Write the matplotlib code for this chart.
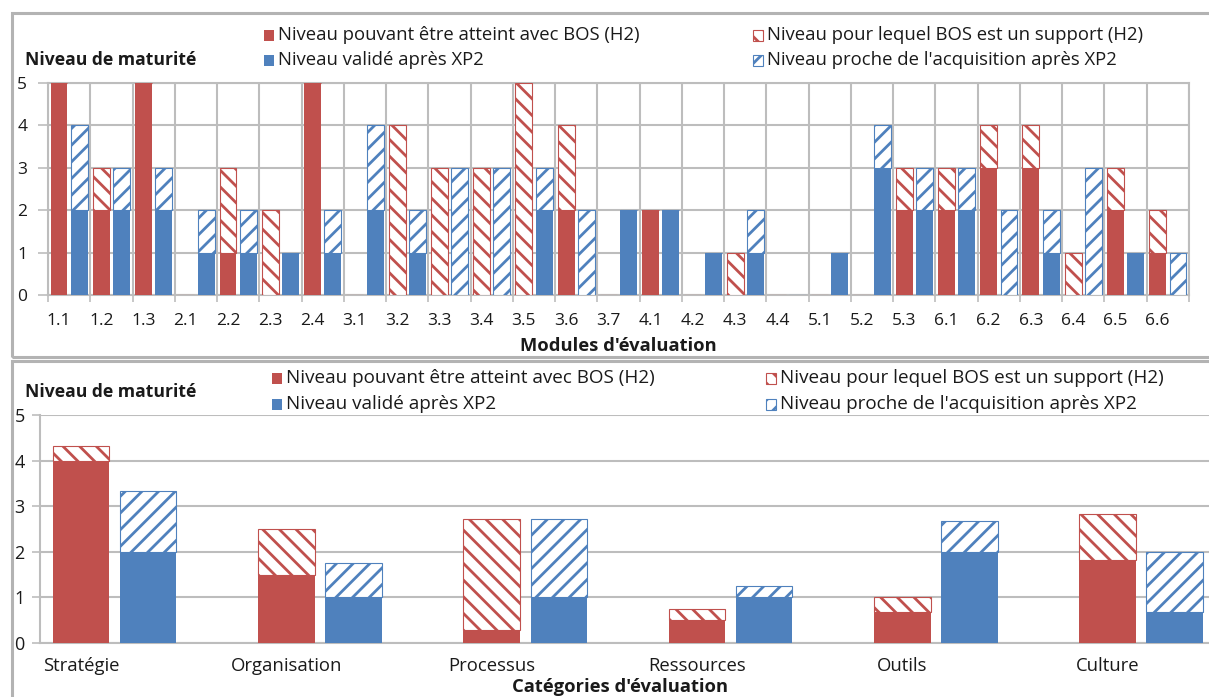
import matplotlib
matplotlib.use('Agg')
import matplotlib.pyplot as plt
from matplotlib.patches import Rectangle
import numpy as np

plt.rcParams['font.family'] = ['Open Sans', 'DejaVu Sans']
plt.rcParams['hatch.linewidth'] = 2.0

# ---------------- data ----------------
modules = ['1.1', '1.2', '1.3', '2.1', '2.2', '2.3', '2.4', '3.1', '3.2', '3.3',
           '3.4', '3.5', '3.6', '3.7', '4.1', '4.2', '4.3', '4.4', '5.1', '5.2',
           '5.3', '6.1', '6.2', '6.3', '6.4', '6.5', '6.6']
bos_level = [5, 2, 5, 0, 1, 0, 5, 0, 0, 0, 0, 0, 2, 0, 2, 0, 0, 0, 0, 0, 2, 2, 3, 3, 0, 2, 1]
bos_support = [0, 1, 0, 0, 2, 2, 0, 0, 4, 3, 3, 5, 2, 0, 0, 0, 1, 0, 0, 0, 1, 1, 1, 1, 1, 1, 1]
xp2_valid = [2, 2, 2, 1, 1, 1, 1, 2, 1, 0, 0, 2, 0, 2, 2, 1, 1, 0, 1, 3, 2, 2, 0, 1, 0, 1, 0]
xp2_close = [2, 1, 1, 1, 1, 0, 1, 2, 1, 3, 3, 1, 2, 0, 0, 0, 1, 0, 0, 1, 1, 1, 2, 1, 3, 0, 1]

categories = ['Stratégie', 'Organisation', 'Processus', 'Ressources', 'Outils', 'Culture']
cat_bos_level = [4.0, 1.5, 0.29, 0.5, 0.67, 1.83]
cat_bos_support = [0.33, 1.0, 2.43, 0.25, 0.33, 1.0]
cat_xp2_valid = [2.0, 1.0, 1.0, 1.0, 2.0, 0.67]
cat_xp2_close = [1.33, 0.75, 1.71, 0.25, 0.67, 1.33]

legend_labels = ["Niveau pouvant être atteint avec BOS (H2)",
                 "Niveau validé après XP2",
                 "Niveau pour lequel BOS est un support (H2)",
                 "Niveau proche de l'acquisition après XP2"]

RED = '#C0504D'
BLUE = '#4F81BD'
GRID = '#BDBDBD'
FRAME = '#B3B3B3'
TXT = '#1a1a1a'

W, H = 1209, 697
fig = plt.figure(figsize=(W / 100, H / 100), dpi=100)
fig.patch.set_facecolor('white')


def fx(x):
    return x / W


def fy(y):
    return 1 - y / H


# panel borders
for (x0, y0, x1, y1) in [(12, 13, 1225, 357), (12, 361, 1225, 720)]:
    fig.patches.append(Rectangle((fx(x0), fy(y1)), fx(x1) - fx(x0), fy(y0) - fy(y1),
                                 transform=fig.transFigure, facecolor='none',
                                 edgecolor=FRAME, linewidth=2.2, zorder=0))

# ---------------- top chart ----------------
ax1 = fig.add_axes([fx(48), fy(295), fx(1189) - fx(48), fy(83) - fy(295)])
n = len(modules)
idx = np.arange(n)
bw = 0.40
xr = idx + 0.26
xb = idx + 0.74
ax1.bar(xr, bos_level, bw, color=RED, linewidth=0, zorder=3)
ax1.bar(xr, bos_support, bw, bottom=bos_level, facecolor='white', edgecolor=RED,
        hatch='\\\\', linewidth=0.8, zorder=3)
ax1.bar(xb, xp2_valid, bw, color=BLUE, linewidth=0, zorder=3)
ax1.bar(xb, xp2_close, bw, bottom=xp2_valid, facecolor='white', edgecolor=BLUE,
        hatch='//', linewidth=0.8, zorder=3)
ax1.set_xlim(0, n)
ax1.set_ylim(0, 5)
ax1.set_xticks(xr)
ax1.set_xticklabels(modules, fontsize=12.5, color=TXT)
ax1.set_xticks(np.arange(n + 1), minor=True)
ax1.tick_params(axis='x', which='major', length=0, pad=13)
ax1.tick_params(axis='x', which='minor', length=5, width=1.2, color=GRID, direction='out')
ax1.set_yticks(range(6))
ax1.set_yticklabels([str(v) for v in range(6)], fontsize=12.5, color=TXT)
ax1.tick_params(axis='y', length=7, width=1.2, color=GRID, pad=8)
ax1.grid(True, which='minor', axis='x', color=GRID, linewidth=1.5, zorder=0)
ax1.grid(True, which='major', axis='y', color=GRID, linewidth=1.5, zorder=0)
ax1.grid(False, which='major', axis='x')
for s in ax1.spines.values():
    s.set_color(GRID)
    s.set_linewidth(1.5)
ax1.set_axisbelow(True)

# ---------------- bottom chart ----------------
ax2 = fig.add_axes([fx(40), fy(643), fx(1209) - fx(40), fy(415) - fy(643)])
m = len(categories)
cidx = np.arange(m)
cw = 0.275
cr = cidx
cb = cidx + 0.327
ax2.bar(cr, cat_bos_level, cw, color=RED, linewidth=0, zorder=3)
ax2.bar(cr, cat_bos_support, cw, bottom=cat_bos_level, facecolor='white', edgecolor=RED,
        hatch='\\\\', linewidth=0.8, zorder=3)
ax2.bar(cb, cat_xp2_valid, cw, color=BLUE, linewidth=0, zorder=3)
ax2.bar(cb, cat_xp2_close, cw, bottom=cat_xp2_valid, facecolor='white', edgecolor=BLUE,
        hatch='//', linewidth=0.8, zorder=3)
ax2.set_xlim(-0.2, 5.494)
ax2.set_ylim(0, 5)
ax2.set_xticks(cr)
ax2.set_xticklabels(categories, fontsize=13.3, color=TXT)
ax2.tick_params(axis='x', length=0, pad=10)
ax2.set_yticks(range(6))
ax2.set_yticklabels([str(v) for v in range(6)], fontsize=13, color=TXT)
ax2.tick_params(axis='y', length=6, width=1.2, color=GRID, pad=5)
ax2.grid(True, axis='y', color=GRID, linewidth=1.5, zorder=0)
for k, s in ax2.spines.items():
    s.set_color(GRID)
    s.set_linewidth(1.5)
ax2.spines['top'].set_visible(False)
ax2.spines['right'].set_visible(False)
ax2.set_axisbelow(True)

# ---------------- texts ----------------
fig.text(fx(25), fy(60), 'Niveau de maturité', fontsize=12.6, fontweight='bold',
         ha='left', va='center', color=TXT)
fig.text(fx(25), fy(392), 'Niveau de maturité', fontsize=12.6, fontweight='bold',
         ha='left', va='center', color=TXT)
fig.text(fx(618), fy(346), "Modules d'évaluation", fontsize=13.2, fontweight='bold',
         ha='center', va='center', color=TXT)
fig.text(fx(620), fy(687), "Catégories d'évaluation", fontsize=13.2, fontweight='bold',
         ha='center', va='center', color=TXT)


def legend_entry(x, y, label, color, hatch, fs):
    if hatch is None:
        p = Rectangle((fx(x), fy(y + 6)), fx(10), 11 / H, transform=fig.transFigure,
                      facecolor=color, edgecolor='none')
    else:
        p = Rectangle((fx(x), fy(y + 6)), fx(10), 11 / H, transform=fig.transFigure,
                      facecolor='white', edgecolor=color, hatch=hatch, linewidth=0.8)
    fig.patches.append(p)
    fig.text(fx(x + 14), fy(y), label, fontsize=fs, ha='left', va='center', color=TXT)


styles = [(RED, None), (BLUE, None), (RED, '\\\\'), (BLUE, '//')]
# top legend
pos_top = [(264, 35), (264, 60), (753, 35), (753, 60)]
for (x, y), lab, (c, h) in zip(pos_top, legend_labels, styles):
    legend_entry(x, y, lab, c, h, 13.3)
# bottom legend
pos_bot = [(272, 378), (272, 404), (766, 378), (766, 404)]
for (x, y), lab, (c, h) in zip(pos_bot, legend_labels, styles):
    legend_entry(x, y, lab, c, h, 13.6)

fig.savefig('out.png', dpi=100)
